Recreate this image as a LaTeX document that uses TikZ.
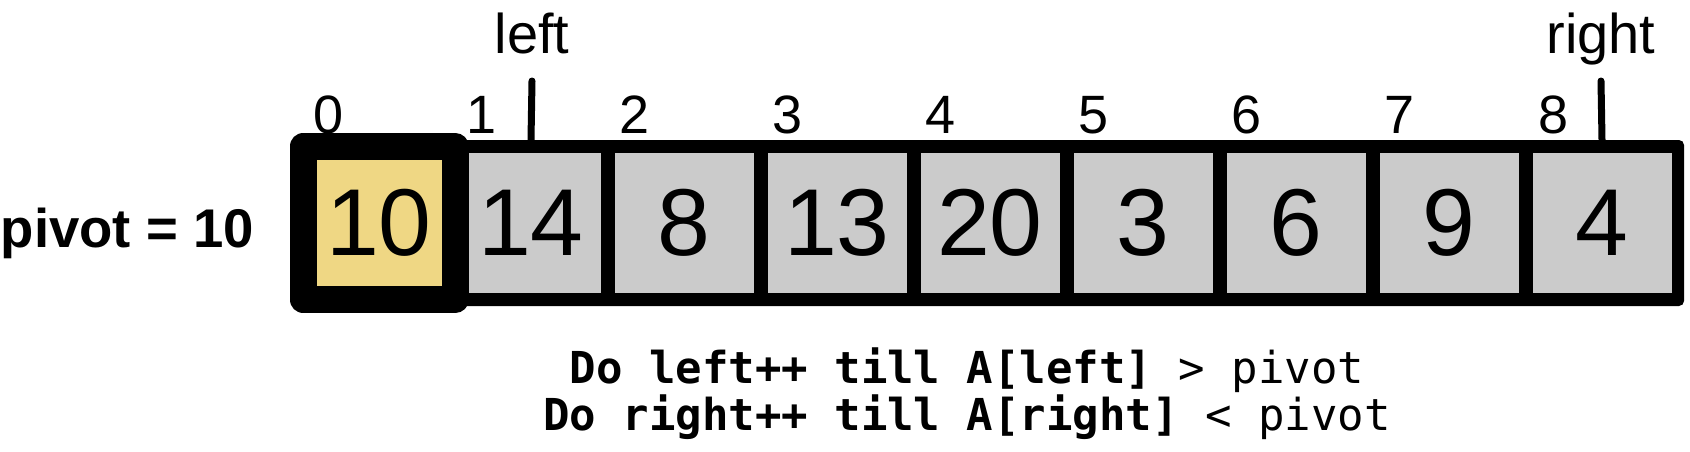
\documentclass[tikz,border=0pt]{standalone}
\usepackage{fontspec}
\setmainfont{Liberation Sans}
\newfontfamily\codefont{DejaVu Sans Mono}
\definecolor{pivotyellow}{RGB}{239,215,132}
\definecolor{cellgray}{RGB}{203,203,203}
\begin{document}
\begin{tikzpicture}[x=1pt,y=-1pt,
  framebox/.style={fill=black, rounded corners=5pt, inner sep=0pt, minimum width=1229pt, minimum height=166pt},
  cellbox/.style={fill=cellgray, inner sep=0pt, minimum width=139pt, minimum height=140pt, font=\fontsize{95}{100}\selectfont},
  pivotbox/.style={draw=black, line width=27pt, line join=round, fill=pivotyellow, inner sep=0pt, minimum width=152pt, minimum height=153pt, font=\fontsize{95}{100}\selectfont},
  idxlabel/.style={anchor=base, inner sep=0pt, font=\fontsize{54}{60}\selectfont},
  ptrlabel/.style={anchor=base, inner sep=0pt, font=\fontsize{56}{62}\selectfont},
  pointer/.style={line width=7pt, line cap=round},
  codeline/.style={anchor=base, inner sep=0pt, font=\codefont\fontsize{44}{50}\selectfont}]
\useasboundingbox (0,0) rectangle (1690,451);
% array frame
\node[framebox] (arr) at (1069.5,223) {};
% cells
\foreach \v [count=\i] in {14,8,13,20,3,6,9,4} {
  \node[cellbox] (c\i) at ({531+(\i-1)*153},223) {\v};
}
% pivot cell
\node[pivotbox] (c0) at (379,223) {10};
% indices
\foreach \i in {0,...,8} {
  \node[idxlabel] (i\i) at ({329+\i*153},133) {\i};
}
% pivot label
\node[anchor=base east, inner sep=0pt, font=\bfseries\fontsize{54.5}{60}\selectfont] (pv) at (254,247) {pivot = 10};
% pointers
\node[ptrlabel] (lleft) at (532,53) {left};
\node[ptrlabel] (lright) at (1601,53) {right};
\draw[pointer] ([yshift=-28pt]lleft.base) -- (c1.north |- arr.north);
\draw[pointer] ([yshift=-28pt]lright.base) -- (c8.north |- arr.north);
% code text
\node[codeline] (t1) at (967,383) {\textbf{Do left++ till A[left]} > pivot};
\node[codeline] (t2) at (967,430) {\textbf{Do right++ till A[right]} < pivot};
\end{tikzpicture}
\end{document}
